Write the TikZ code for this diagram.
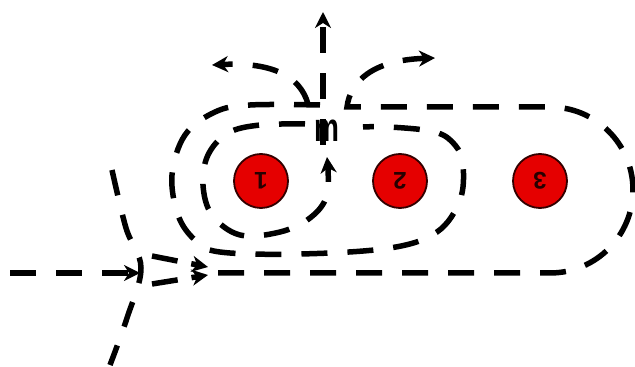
\documentclass[tikz,border=0pt]{standalone}
\usepackage{fontspec}
\setmainfont{Liberation Sans}
\usetikzlibrary{arrows.meta}
\begin{document}
\begin{tikzpicture}[x=1pt,y=1pt,
  flow/.style={line width=5.5pt,dash pattern=on 26pt off 20pt,draw=black},
  tip/.style={-{Stealth[length=16pt,width=16pt,inset=5pt]}},
  charge/.style={circle,draw=black!80!red,line width=1.8pt,fill=red!90!black,minimum size=54pt,inner sep=0pt,
    font=\fontsize{24}{24}\selectfont\bfseries,text=black!85!red}]
\useasboundingbox (0,0) rectangle (635,367);
% charges
\node[charge] (c1) at (261,186) {\rotatebox{180}{1}};
\node[charge] (c2) at (400,186) {\rotatebox{180}{2}};
\node[charge] (c3) at (540,186) {\rotatebox{180}{3}};
% symbol
\node[font=\fontsize{40}{40}\selectfont\bfseries,xscale=0.7,inner sep=0pt] (sym) at (327,236) {m};
% incoming line
\coordinate (in0) at (10,94);
\coordinate (in1) at (140,94);
\draw[flow,tip] (in0) -- (in1);
% ) curve
\draw[flow] plot[smooth,tension=0.6] coordinates{(112,197) (126,139) (141,99) (127,49) (110,2)};
% converging lines
\coordinate (u0) at (152,111); \coordinate (u1) at (208,100);
\coordinate (l0) at (152,83);  \coordinate (l1) at (208,92);
\draw[flow,tip,dash pattern=on 26pt off 14pt] (u0) -- (u1);
\draw[flow,tip,dash pattern=on 26pt off 14pt] (l0) -- (l1);
% outer loop around all three
\coordinate (o0) at (218,94);
\coordinate (o1) at (550,94);
\coordinate (oa) at (435,309);
\draw[flow,tip] (o0) -- (o1) arc[start angle=-90,end angle=90,radius=83] -- (347,260) .. controls (350,285) and (372,307) .. (oa);
% loop around 1 and 2
\draw[flow] plot[smooth,tension=0.6] coordinates{(320,262) (250,262) (215,255) (185,232) (172,192) (178,152) (195,127) (220,115) (300,113) (390,119) (437,135) (460,167) (463,202) (455,222) (435,235) (390,240) (363,240)};
% inner loop around 1
\draw[flow,tip] plot[smooth,tension=0.6] coordinates{(305,243) (260,242) (228,234) (208,212) (203,182) (212,152) (240,132) (280,135) (310,149) (327,172) (327,210)};
% up-left arrow
\coordinate (ul0) at (308,263); \coordinate (ul1) at (212,302);
\draw[flow,tip] (ul0) .. controls (300,292) and (270,305) .. (ul1);
% vertical arrow
\coordinate (v0) at (323,222); \coordinate (v1) at (323,355);
\draw[flow,tip] (v0) -- (v1);
\end{tikzpicture}
\end{document}
